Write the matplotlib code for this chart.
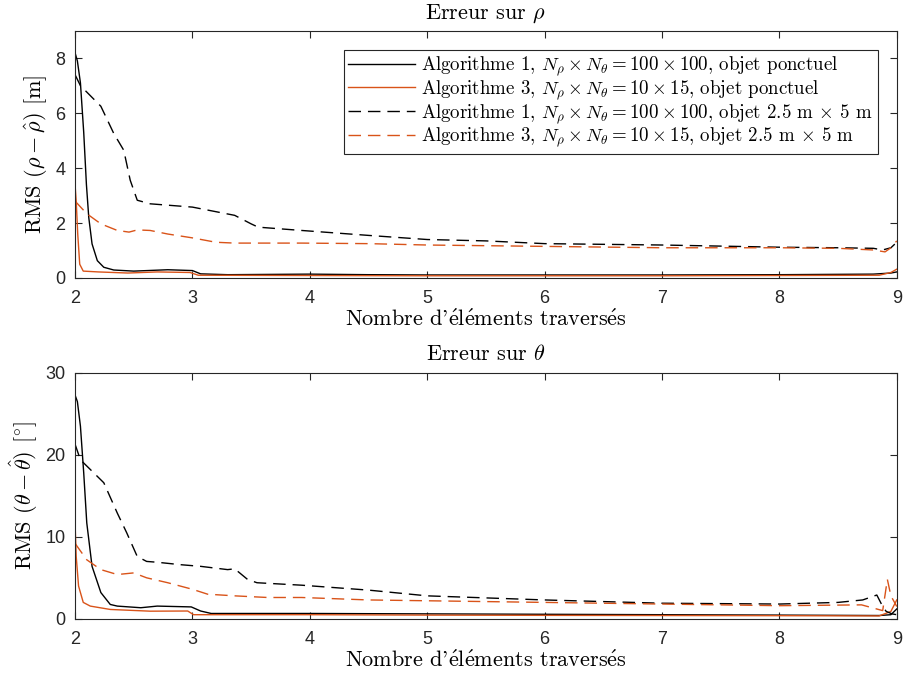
import numpy as np
import matplotlib
matplotlib.use("Agg")
import matplotlib.pyplot as plt

plt.rcParams['mathtext.fontset'] = 'cm'

# --- data (x = nombre d'elements traverses) ---
# erreur sur rho [m]
rho_a1_pt_x = [2.0, 2.02, 2.046, 2.074, 2.097, 2.117, 2.145, 2.19, 2.245, 2.33, 2.5, 2.79, 3.0, 3.07, 3.3, 4.0, 4.5, 5.0, 6.0, 7.0, 8.0, 8.8, 8.95, 9.0]
rho_a1_pt_y = [8.2, 7.9, 7.1, 5.3, 3.4, 2.2, 1.24, 0.63, 0.39, 0.29, 0.25, 0.3, 0.27, 0.15, 0.12, 0.14, 0.12, 0.11, 0.11, 0.11, 0.12, 0.14, 0.18, 0.22]
rho_a3_pt_x = [2.0, 2.01, 2.023, 2.04, 2.07, 2.2, 2.45, 2.7, 2.98, 3.05, 4.0, 5.0, 6.0, 7.0, 8.0, 8.85, 8.95, 9.0]
rho_a3_pt_y = [3.4, 2.8, 1.6, 0.5, 0.25, 0.22, 0.18, 0.22, 0.2, 0.1, 0.09, 0.08, 0.08, 0.08, 0.09, 0.1, 0.2, 0.32]
rho_a1_ob_x = [2.0, 2.046, 2.22, 2.33, 2.415, 2.47, 2.53, 2.64, 3.0, 3.36, 3.5, 3.56, 3.93, 4.5, 5.0, 5.5, 6.0, 7.0, 8.0, 8.5, 8.8, 8.88, 8.95, 9.0]
rho_a1_ob_y = [7.4, 7.0, 6.25, 5.26, 4.65, 3.56, 2.83, 2.7, 2.58, 2.28, 1.97, 1.85, 1.73, 1.55, 1.4, 1.35, 1.25, 1.2, 1.12, 1.1, 1.08, 1.02, 1.1, 1.3]
rho_a3_ob_x = [2.0, 2.1, 2.22, 2.36, 2.46, 2.53, 2.64, 2.79, 3.0, 3.2, 3.36, 3.93, 4.5, 5.0, 6.0, 7.0, 8.0, 8.5, 8.8, 8.9, 8.95, 9.0]
rho_a3_ob_y = [2.8, 2.34, 1.97, 1.73, 1.67, 1.75, 1.73, 1.6, 1.46, 1.3, 1.27, 1.27, 1.25, 1.2, 1.15, 1.1, 1.1, 1.08, 1.02, 0.95, 1.1, 1.35]

# erreur sur theta [deg]
th_a1_pt_x = [2.0, 2.02, 2.046, 2.074, 2.1, 2.145, 2.22, 2.3, 2.36, 2.56, 2.7, 2.99, 3.07, 3.16, 4.0, 5.0, 6.0, 7.0, 8.0, 8.85, 8.95, 9.0]
th_a1_pt_y = [27.3, 26.5, 23.5, 17.8, 11.7, 6.4, 3.2, 1.75, 1.55, 1.35, 1.55, 1.45, 0.95, 0.65, 0.65, 0.6, 0.55, 0.5, 0.45, 0.4, 0.5, 1.2]
th_a3_pt_x = [2.0, 2.01, 2.03, 2.07, 2.13, 2.3, 2.64, 2.96, 3.01, 4.0, 5.0, 6.0, 7.0, 8.0, 8.85, 8.95, 9.0]
th_a3_pt_y = [11.8, 7.6, 4.0, 2.0, 1.55, 1.14, 0.93, 0.95, 0.5, 0.5, 0.45, 0.42, 0.4, 0.38, 0.35, 0.9, 2.3]
th_a1_ob_x = [2.0, 2.046, 2.16, 2.245, 2.36, 2.44, 2.53, 2.61, 2.7, 2.9, 3.07, 3.3, 3.36, 3.47, 3.55, 3.93, 4.5, 5.0, 6.0, 7.0, 8.0, 8.5, 8.71, 8.83, 8.88, 8.91, 8.96, 9.0]
th_a1_ob_y = [21.3, 19.4, 17.8, 16.6, 12.9, 10.5, 7.6, 7.0, 6.9, 6.6, 6.4, 6.0, 6.1, 4.8, 4.4, 4.1, 3.5, 2.8, 2.3, 1.9, 1.8, 2.0, 2.3, 2.9, 1.5, 0.9, 0.6, 0.5]
th_a3_ob_x = [2.0, 2.1, 2.22, 2.36, 2.5, 2.61, 2.79, 3.0, 3.13, 3.36, 3.64, 3.93, 4.5, 5.0, 6.0, 7.0, 8.0, 8.7, 8.88, 8.92, 8.95, 9.0]
th_a3_ob_y = [9.2, 7.2, 6.0, 5.4, 5.6, 5.0, 4.4, 3.6, 3.0, 2.8, 2.6, 2.6, 2.3, 2.2, 2.0, 1.8, 1.6, 1.7, 1.0, 4.8, 2.8, 1.5]

labels = [r"Algorithme 1, $N_\rho \times N_\theta = 100 \times 100$, objet ponctuel",
          r"Algorithme 3, $N_\rho \times N_\theta = 10 \times 15$, objet ponctuel",
          r"Algorithme 1, $N_\rho \times N_\theta = 100 \times 100$, objet 2.5 m $\times$ 5 m",
          r"Algorithme 3, $N_\rho \times N_\theta = 10 \times 15$, objet 2.5 m $\times$ 5 m"]
xlab = r"Nombre d'$\mathrm{\acute{e}}$l$\mathrm{\acute{e}}$ments travers$\mathrm{\acute{e}}$s"

black = '#000000'
orange = '#D95319'
serif = ['cmr10', 'DejaVu Serif']
tickfont = 'Liberation Sans'
dash = (0, (9, 5))
lblsize = 16


def style(ax, ymax, yticks):
    ax.set_xlim(2, 9)
    ax.set_ylim(0, ymax)
    ax.set_xticks(range(2, 10))
    ax.set_yticks(yticks)
    ax.tick_params(direction='in', length=5, width=0.8, top=True, right=True,
                   labelsize=13, colors='#262626', labelcolor='#262626')
    ax.tick_params(axis='x', pad=9)
    ax.tick_params(axis='y', pad=7)
    for lab in ax.get_xticklabels() + ax.get_yticklabels():
        lab.set_family(tickfont)
    for s in ax.spines.values():
        s.set_color('#262626')
        s.set_linewidth(0.8)
    ax.set_xlabel(xlab, family=serif, fontsize=lblsize, labelpad=1)


fig = plt.figure(figsize=(9.04, 6.83), dpi=100)
ax1 = fig.add_axes([0.083, 0.593, 0.909, 0.362])
ax2 = fig.add_axes([0.083, 0.094, 0.909, 0.360])

ax1.plot(rho_a1_pt_x, rho_a1_pt_y, color=black, lw=1.0, label=labels[0])
ax1.plot(rho_a3_pt_x, rho_a3_pt_y, color=orange, lw=1.0, label=labels[1])
ax1.plot(rho_a1_ob_x, rho_a1_ob_y, color=black, lw=1.0, ls=dash, label=labels[2])
ax1.plot(rho_a3_ob_x, rho_a3_ob_y, color=orange, lw=1.0, ls=dash, label=labels[3])
style(ax1, 9, [0, 2, 4, 6, 8])
ax1.set_title(r"Erreur sur $\rho$", family=serif, fontsize=lblsize, pad=9)
ax1.set_ylabel(r"RMS $(\rho - \hat{\rho})$ [m]", family=serif, fontsize=lblsize, labelpad=4)
leg = ax1.legend(loc='upper right', fancybox=False, framealpha=1, edgecolor='#262626',
                 prop={'family': serif, 'size': 13.6}, handlelength=3.5, borderaxespad=1.0,
                 labelspacing=0.0, borderpad=0.25, handletextpad=0.35)
leg.get_frame().set_linewidth(0.8)

ax2.plot(th_a1_pt_x, th_a1_pt_y, color=black, lw=1.0)
ax2.plot(th_a3_pt_x, th_a3_pt_y, color=orange, lw=1.0)
ax2.plot(th_a1_ob_x, th_a1_ob_y, color=black, lw=1.0, ls=dash)
ax2.plot(th_a3_ob_x, th_a3_ob_y, color=orange, lw=1.0, ls=dash)
style(ax2, 30, [0, 10, 20, 30])
ax2.set_title(r"Erreur sur $\theta$", family=serif, fontsize=lblsize, pad=9)
ax2.set_ylabel(r"RMS $(\theta - \hat{\theta})$ [$^{\circ}$]", family=serif, fontsize=lblsize, labelpad=4)

fig.savefig("out.png", dpi=100)
